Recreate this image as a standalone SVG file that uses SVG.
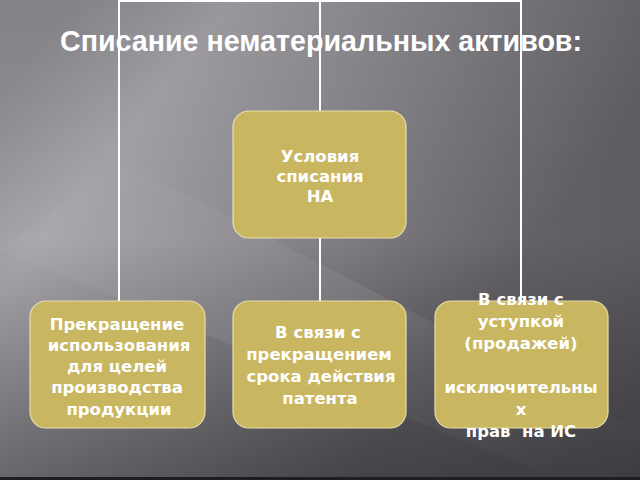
<svg xmlns="http://www.w3.org/2000/svg" width="640" height="480" viewBox="0 0 640 480">
<defs>
<linearGradient id="bg" x1="0" y1="0.2" x2="1" y2="0.8">
<stop offset="0" stop-color="#939196"/>
<stop offset="0.18" stop-color="#a9a7ac"/>
<stop offset="0.45" stop-color="#88868b"/>
<stop offset="0.75" stop-color="#636166"/>
<stop offset="1" stop-color="#58565b"/>
</linearGradient>
<linearGradient id="shade" x1="0" y1="0" x2="0" y2="1">
<stop offset="0" stop-color="#000" stop-opacity="0.1"/>
<stop offset="0.5" stop-color="#000" stop-opacity="0"/>
<stop offset="1" stop-color="#000" stop-opacity="0.3"/>
</linearGradient>
<linearGradient id="streak" x1="0" y1="0" x2="1" y2="1">
<stop offset="0" stop-color="#fff" stop-opacity="0"/>
<stop offset="0.5" stop-color="#fff" stop-opacity="0.12"/>
<stop offset="1" stop-color="#fff" stop-opacity="0"/>
</linearGradient>
</defs>
<style>
.box{fill:#c9b661;stroke:#e9deaa;stroke-width:1.2}
.t{font-family:"DejaVu Sans","Liberation Sans",sans-serif;font-weight:bold;font-size:16.5px;fill:#fff;text-anchor:middle;white-space:pre}
.c{stroke:#fff;stroke-width:2;fill:none}
</style>
<rect width="640" height="480" fill="url(#bg)"/>
<rect width="640" height="480" fill="url(#shade)"/>
<polygon points="0,250 120,160 640,430 640,480 560,480" fill="url(#streak)" opacity="0.6"/>
<rect x="0" y="477" width="640" height="3" fill="#1e1e20"/>
<g id="connectors">
<path class="c" d="M119,301 V1 H521 V301"/>
<path class="c" d="M320,1 V111"/>
<path class="c" d="M320,238 V301"/>
</g>
<g id="title">
<text x="321" y="51" font-family="'Liberation Sans',Arial,sans-serif" font-weight="bold" font-size="30" fill="#fff" text-anchor="middle" textLength="522" lengthAdjust="spacingAndGlyphs">Списание нематериальных активов:</text>
</g>
<g id="n-top">
<rect class="box" x="233" y="111" width="173" height="127" rx="16"/>
<text class="t" x="320" y="162">Условия</text>
<text class="t" x="320" y="182">списания</text>
<text class="t" x="320" y="202">НА</text>
</g>
<g id="n-left">
<rect class="box" x="30" y="301" width="175" height="127" rx="16"/>
<text class="t" x="117" y="330">Прекращение</text>
<text class="t" x="119" y="351">использования</text>
<text class="t" x="117" y="372">для целей</text>
<text class="t" x="117" y="393">производства</text>
<text class="t" x="119" y="415">продукции</text>
</g>
<g id="n-mid">
<rect class="box" x="233" y="301" width="173" height="127" rx="16"/>
<text class="t" x="318" y="338">В связи с</text>
<text class="t" x="319" y="360">прекращением</text>
<text class="t" x="321" y="382">срока действия</text>
<text class="t" x="320" y="404">патента</text>
</g>
<g id="n-right">
<rect class="box" x="435" y="301" width="173" height="127" rx="16"/>
<text class="t" x="521" y="305">В связи с</text>
<text class="t" x="521" y="327">уступкой</text>
<text class="t" x="521" y="349">(продажей)</text>
<text class="t" x="521" y="393">исключительны</text>
<text class="t" x="521" y="415">х</text>
<text class="t" x="521" y="437" xml:space="preserve">прав  на ИС</text>
</g>
</svg>
